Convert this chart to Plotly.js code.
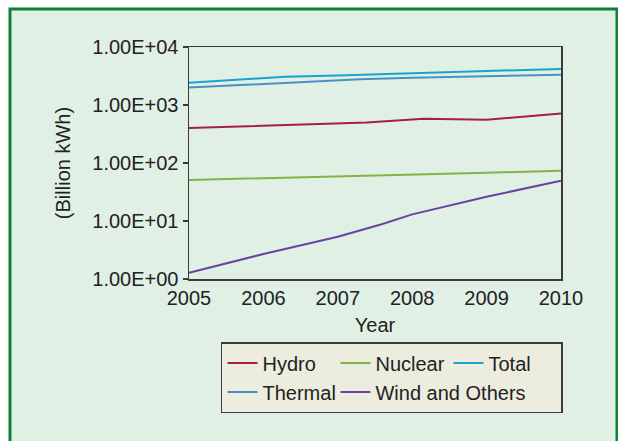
<!DOCTYPE html>
<html>
<head>
<meta charset="utf-8">
<script src="https://cdn.plot.ly/plotly-3.0.1.min.js"></script>
<style>
  html, body { margin: 0; padding: 0; background: #ffffff; }
  #chart { width: 618px; height: 441px; }
</style>
</head>
<body>
<div id="chart"></div>
<script>
// ---- data (Billion kWh, log scale) ----
var hydroYears   = [2005, 2007.39, 2008.15, 2009.0, 2010];
var hydroValues  = [401, 499, 581, 558, 714];

var nuclearYears  = [2005, 2006, 2007, 2008, 2009, 2010];
var nuclearValues = [50.9, 55.1, 59.0, 63.4, 68.0, 73.4];

var totalYears   = [2005, 2006, 2006.29, 2007, 2008, 2009, 2010];
var totalValues  = [2423, 2911, 3076, 3225, 3564, 3856, 4178];

var thermalYears  = [2005, 2006, 2006.36, 2007, 2007.3, 2008, 2009, 2010];
var thermalValues = [2004, 2301, 2423, 2655, 2774, 2956, 3124, 3329];

var windYears   = [2005, 2006, 2007, 2007.6, 2008, 2009, 2010];
var windValues  = [1.28, 2.70, 5.36, 8.88, 13.0, 26.2, 49.5];

var xTickVals  = [2005, 2006, 2007, 2008, 2009, 2010];
var xTickText  = ['2005', '2006', '2007', '2008', '2009', '2010'];
var yTickVals  = [1, 10, 100, 1000, 10000];
var yTickText  = ['1.00E+00', '1.00E+01', '1.00E+02', '1.00E+03', '1.00E+04'];

var FONT = 'Liberation Sans, Arial, Helvetica, sans-serif';
var TXT = '#222222';

function series(name, xs, ys, color) {
  return {
    type: 'scatter', mode: 'lines', name: name,
    x: xs, y: ys,
    line: { color: color, width: 2 },
    hoverinfo: 'x+y+name'
  };
}

var data = [
  series('Hydro', hydroYears, hydroValues, '#a32040'),
  series('Nuclear', nuclearYears, nuclearValues, '#7fb545'),
  series('Total', totalYears, totalValues, '#1ba2d2'),
  series('Thermal', thermalYears, thermalValues, '#4a90c6'),
  series('Wind and Others', windYears, windValues, '#6a42a2')
];

var layout = {
  width: 618, height: 441,
  margin: { l: 189, r: 57, t: 47, b: 162, pad: 0 },
  paper_bgcolor: '#ffffff',
  plot_bgcolor: '#fdf0c9',
  font: { family: FONT, size: 20, color: TXT },
  showlegend: true,
  xaxis: {
    type: 'linear',
    range: [2005, 2010],
    tickvals: xTickVals, ticktext: xTickText,
    ticks: '', showgrid: false, zeroline: false,
    showline: true, linecolor: '#3a3a3a', linewidth: 1.5, mirror: true,
    tickfont: { family: FONT, size: 20, color: TXT },
    title: { text: 'Year', font: { family: FONT, size: 20, color: TXT }, standoff: 10 },
    automargin: false
  },
  yaxis: {
    type: 'log',
    range: [0, 4],
    tickvals: yTickVals, ticktext: yTickText,
    ticks: 'outside', ticklen: 5, tickwidth: 1.2, tickcolor: '#3a3a3a',
    showgrid: false, zeroline: false,
    showline: true, linecolor: '#3a3a3a', linewidth: 1.5, mirror: true,
    tickfont: { family: FONT, size: 20, color: TXT },
    title: { text: '(Billion kWh)', font: { family: FONT, size: 20, color: TXT }, standoff: 16 },
    automargin: false
  },
  legend: {
    orientation: 'h',
    x: 0.086, xanchor: 'left',
    y: -0.2716, yanchor: 'top',
    bgcolor: '#ededdf',
    bordercolor: '#3a3a3a', borderwidth: 1.5,
    font: { family: FONT, size: 20, color: TXT },
    entrywidth: 68, entrywidthmode: 'pixels',
    tracegroupgap: 0, itemclick: false, itemdoubleclick: false
  },
  shapes: [
    {
      type: 'rect', xref: 'paper', yref: 'paper',
      x0: -0.4812, x1: 1.1505, y0: -0.75, y1: 1.1638,
      line: { color: '#0f7f3a', width: 3 },
      fillcolor: '#e1f0e5', layer: 'below'
    }
  ]
};

Plotly.newPlot('chart', data, layout, { displayModeBar: false, staticPlot: true });
</script>
</body>
</html>
